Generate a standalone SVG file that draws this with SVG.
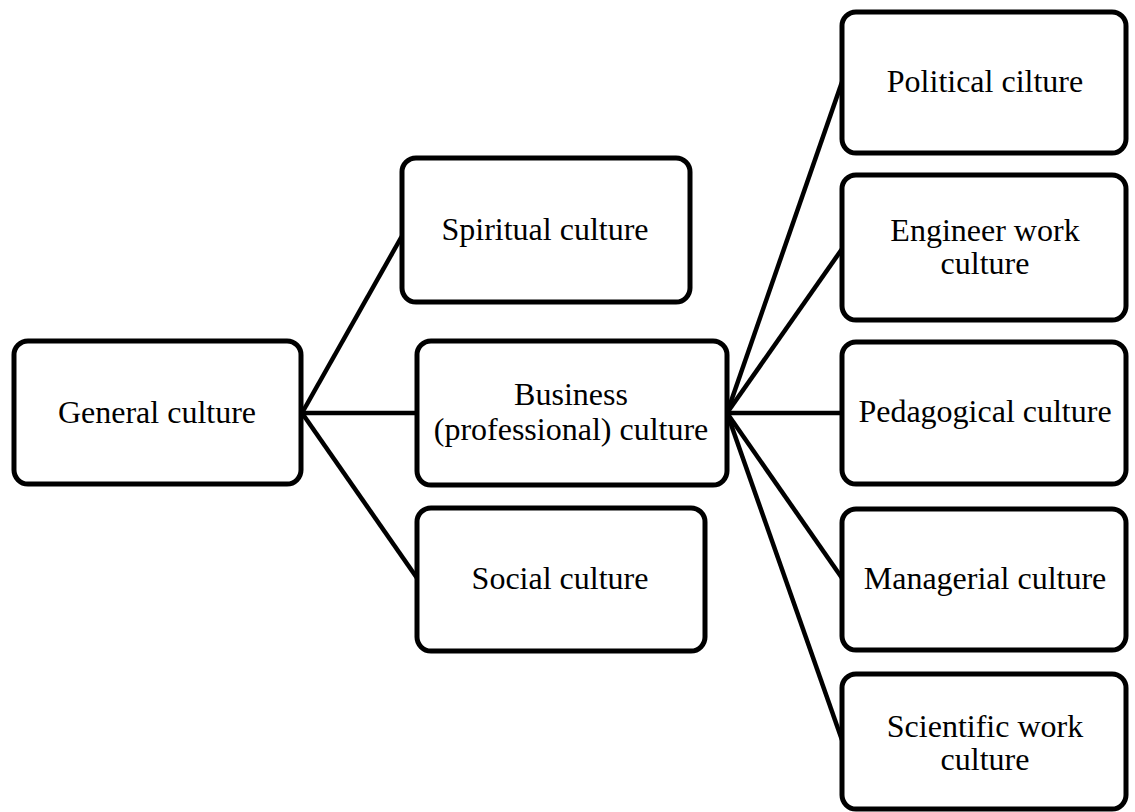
<svg xmlns="http://www.w3.org/2000/svg" width="1135" height="812" viewBox="0 0 1135 812">
<style>
.box{fill:#fff;stroke:#000;stroke-width:5}
.t{font-family:"Liberation Serif","Times New Roman",serif;font-size:32px;fill:#000;text-anchor:middle}
.c{stroke:#000;stroke-width:4.5;fill:none}
</style>
<rect width="1135" height="812" fill="#fff"/>
<g id="connectors">
<line class="c" x1="302" y1="413" x2="402" y2="236"/>
<line class="c" x1="302" y1="413" x2="417" y2="413"/>
<line class="c" x1="302" y1="413" x2="417" y2="578"/>
<line class="c" x1="727" y1="413" x2="842" y2="82"/>
<line class="c" x1="727" y1="413" x2="842" y2="249"/>
<line class="c" x1="727" y1="413" x2="842" y2="413"/>
<line class="c" x1="727" y1="413" x2="842" y2="578"/>
<line class="c" x1="727" y1="413" x2="842" y2="740"/>
</g>
<g id="general"><rect class="box" x="14" y="341" width="287" height="143" rx="14"/><text class="t" x="157" y="423">General culture</text></g>
<g id="spiritual"><rect class="box" x="402" y="158" width="288" height="144" rx="14"/><text class="t" x="545" y="240">Spiritual culture</text></g>
<g id="business"><rect class="box" x="417" y="341" width="310" height="144" rx="14"/><text class="t" x="571" y="405">Business</text><text class="t" x="571" y="440">(professional) culture</text></g>
<g id="social"><rect class="box" x="417" y="508" width="288" height="143" rx="14"/><text class="t" x="560" y="589">Social culture</text></g>
<g id="political"><rect class="box" x="842" y="12" width="284" height="141" rx="14"/><text class="t" x="985" y="92">Political cilture</text></g>
<g id="engineer"><rect class="box" x="842" y="175" width="284" height="145" rx="14"/><text class="t" x="985" y="241">Engineer work</text><text class="t" x="985" y="274">culture</text></g>
<g id="pedagogical"><rect class="box" x="842" y="342" width="284" height="142" rx="14"/><text class="t" x="985" y="422">Pedagogical culture</text></g>
<g id="managerial"><rect class="box" x="842" y="509" width="284" height="141" rx="14"/><text class="t" x="985" y="589">Managerial culture</text></g>
<g id="scientific"><rect class="box" x="842" y="674" width="284" height="135" rx="14"/><text class="t" x="985" y="737">Scientific work</text><text class="t" x="985" y="770">culture</text></g>
</svg>
